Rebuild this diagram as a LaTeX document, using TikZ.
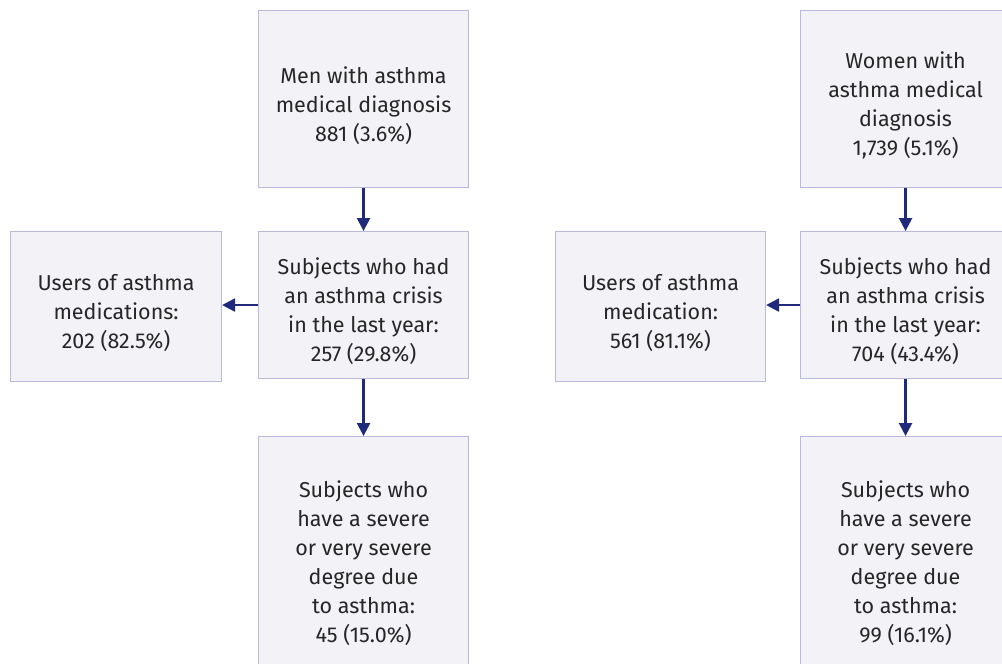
\documentclass[tikz,border=0pt]{standalone}
\usepackage{fontspec}
\setmainfont{Fira Sans}
\usetikzlibrary{arrows.meta}
\definecolor{boxfill}{HTML}{F2F2F7}
\definecolor{boxline}{HTML}{B9B9DD}
\definecolor{arrowc}{HTML}{1F2A7A}
\definecolor{txt}{HTML}{262626}
\newcommand{\tg}{\rule{0pt}{30pt}}
\begin{document}
\begin{tikzpicture}[x=1pt,y=-1pt,
  box/.style={draw=boxline, fill=boxfill, line width=1.1pt, minimum width=210pt, inner sep=0pt,
    align=center, font=\fontsize{21.5}{29}\selectfont, text=txt, anchor=north west},
  conn/.style={draw=arrowc, line width=2.4pt, -{Triangle[length=13pt,width=13pt]}}]
\useasboundingbox (0,0) rectangle (1002,664);
% left column
\node[box, minimum height=177pt] (mA) at (258,10) {\tg Men with asthma\\medical diagnosis\\881 (3.6\%)};
\node[box, minimum height=147pt] (mB) at (258,231) {\tg Subjects who had\\an asthma crisis\\in the last year:\\257 (29.8\%)};
\node[box, minimum height=150pt, minimum width=211pt] (mL) at (10,231) {\tg Users of asthma\\medications:\\202 (82.5\%)};
\node[box, minimum height=240pt] (mC) at (258,436) {\tg Subjects who\\have a severe\\or very severe\\degree due\\to asthma:\\45 (15.0\%)};
% right column
\node[box, minimum height=177pt] (wA) at (800,10) {\tg Women with\\asthma medical\\diagnosis\\1,739 (5.1\%)};
\node[box, minimum height=147pt] (wB) at (800,231) {\tg Subjects who had\\an asthma crisis\\in the last year:\\704 (43.4\%)};
\node[box, minimum height=150pt] (wL) at (555,231) {\tg Users of asthma\\medication:\\561 (81.1\%)};
\node[box, minimum height=240pt] (wC) at (800,436) {\tg Subjects who\\have a severe\\or very severe\\degree due\\to asthma:\\99 (16.1\%)};
% connectors
\draw[conn] (mA) -- (mB);
\draw[conn] (mB.west) -- (mB.west -| mL.east);
\draw[conn] (mB) -- (mC);
\draw[conn] (wA) -- (wB);
\draw[conn] (wB.west) -- (wB.west -| wL.east);
\draw[conn] (wB) -- (wC);
\end{tikzpicture}
\end{document}
